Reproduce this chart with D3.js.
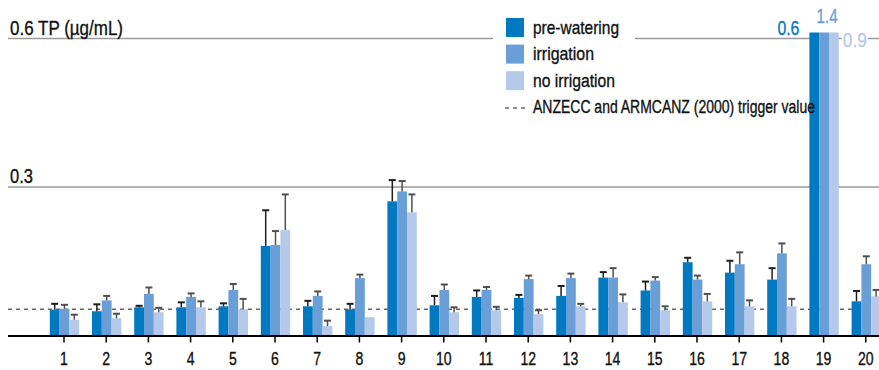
<!DOCTYPE html>
<html>
<head>
<meta charset="utf-8">
<script src="https://cdn.jsdelivr.net/npm/d3@7"></script>
<style>
  html, body { margin: 0; padding: 0; background: #fff; }
  svg { display: block; }
  text { font-family: "Liberation Sans", Arial, sans-serif; }
</style>
</head>
<body>
<svg id="chart" width="879" height="370"></svg>
<script>
// Total phosphorus (TP, µg/mL) by site, three sampling treatments
const sites = ["1","2","3","4","5","6","7","8","9","10","11","12","13","14","15","16","17","18","19","20"];

const preWatering   = [0.052,0.049,0.057,0.057,0.059,0.181,0.059,0.053,0.271,0.061,0.078,0.076,0.080,0.117,0.091,0.148,0.127,0.113,0.6,0.069];
const preWateringSE = [0.012,0.014,0.003,0.010,0.006,0.072,0.011,0.011,0.043,0.019,0.013,0.006,0.020,0.011,0.018,0.009,0.024,0.023,0,0.021];

const irrigation    = [0.054,0.071,0.084,0.078,0.092,0.183,0.080,0.116,0.291,0.092,0.092,0.114,0.116,0.117,0.111,0.113,0.144,0.166,1.4,0.144];
const irrigationSE  = [0.008,0.009,0.013,0.007,0.012,0.028,0.009,0.007,0.021,0.011,0.006,0.007,0.009,0.019,0.007,0.008,0.024,0.020,0,0.016];

const noIrrigation  = [0.032,0.035,0.047,0.057,0.053,0.213,0.019,0.037,0.249,0.047,0.051,0.043,0.059,0.067,0.051,0.069,0.059,0.059,0.9,0.079];
const noIrrigationSE= [0.010,0.009,0.009,0.012,0.021,0.072,0.011,0,0.036,0.010,0.007,0.008,0.005,0.016,0.008,0.015,0.012,0.015,0,0.013];

const seriesNames  = ["pre-watering", "irrigation", "no irrigation"];
const seriesColors = ["#0079c1", "#6a9ed6", "#b5caeb"];
const errorColors  = ["#1e1e1e", "#4f4f4f", "#4f4f4f"];
const triggerValue = 0.053;
const triggerLabel = "ANZECC and ARMCANZ (2000) trigger value";
const yTicks = [0.3, 0.6];
const yTopLabel = "TP (µg/mL)";

const series = [
  { name: seriesNames[0], values: preWatering,  errors: preWateringSE },
  { name: seriesNames[1], values: irrigation,   errors: irrigationSE },
  { name: seriesNames[2], values: noIrrigation, errors: noIrrigationSE }
];

const svg = d3.select("#chart");
const W = 879;
const left = 8;
const narrow = 0.8; // default horizontal squeeze for a condensed look

// set widths for the condensed labels
const legendWidths = [86, 61, 82, 282];
const valueLabelWidths = [22, 21, 24];

const y = d3.scaleLinear().domain([0, 0.6]).range([335.5, 38.5]);
const yMax = 0.6;
const overshoot = 6; // bars beyond the scale are cut just above the top line

const x = d3.scalePoint().domain(sites).range([64, 865.8]);
const xSub = d3.scaleBand().domain(d3.range(3)).range([-14.2, 15.2]);

// gridlines
svg.append("g").selectAll("line").data(yTicks).join("line")
  .attr("x1", left).attr("x2", W)
  .attr("y1", d => y(d)).attr("y2", d => y(d))
  .attr("stroke", "#9a9a9a").attr("stroke-width", 1.5);

// y labels
svg.append("g").selectAll("text").data(yTicks).join("text")
  .attr("x", 10).attr("y", d => y(d) - 4)
  .attr("font-size", 20.5).attr("fill", "#111")
  .attr("data-w", d => d === yMax ? 113 : 23)
  .text(d => d === yMax ? `${d} ${yTopLabel}` : `${d}`);

// trigger line
svg.append("line")
  .attr("x1", left).attr("x2", W)
  .attr("y1", y(triggerValue)).attr("y2", y(triggerValue))
  .attr("stroke", "#666").attr("stroke-width", 1.4)
  .attr("stroke-dasharray", "4,4");

// bars
const barTop = v => v >= yMax ? y(yMax) - overshoot : y(v);
const groups = svg.append("g").selectAll("g").data(sites).join("g")
  .attr("transform", d => `translate(${x(d)},0)`);

series.forEach((s, j) => {
  groups.append("rect")
    .attr("x", xSub(j))
    .attr("width", xSub.bandwidth())
    .attr("y", (d, i) => barTop(s.values[i]))
    .attr("height", (d, i) => y(0) - barTop(s.values[i]))
    .attr("fill", seriesColors[j]);
});

// error bars (upper only)
series.forEach((s, j) => {
  const cx = xSub(j) + xSub.bandwidth() / 2;
  const top = d => { const i = sites.indexOf(d); return y(s.values[i] + s.errors[i]); };
  const eg = groups.filter((d, i) => s.errors[i] > 0 && s.values[i] < yMax);
  eg.append("line")
    .attr("x1", cx).attr("x2", cx)
    .attr("y1", d => y(s.values[sites.indexOf(d)]))
    .attr("y2", top)
    .attr("stroke", errorColors[j]).attr("stroke-width", 1.5);
  eg.append("line")
    .attr("x1", cx - 3.5).attr("x2", cx + 3.5)
    .attr("y1", top).attr("y2", top)
    .attr("stroke", errorColors[j]).attr("stroke-width", 2);
});

// value labels for the off-scale site
const offIdx = sites.findIndex((d, i) => series.some(s => s.values[i] >= yMax));
if (offIdx >= 0) {
  const cx = x(sites[offIdx]);
  const lblG = svg.append("g").attr("font-size", 21);
  lblG.append("text")
    .attr("x", cx + xSub(0) - 10).attr("y", 35)
    .attr("text-anchor", "end").attr("fill", seriesColors[0])
    .attr("data-w", valueLabelWidths[0])
    .text(d3.format(".1f")(series[0].values[offIdx]));
  lblG.append("text")
    .attr("x", cx + xSub(1) + xSub.bandwidth() / 2 + 3).attr("y", 23)
    .attr("text-anchor", "middle").attr("fill", seriesColors[1])
    .attr("data-w", valueLabelWidths[1])
    .text(d3.format(".1f")(series[1].values[offIdx]));
  const t3x = cx + xSub(2) + xSub.bandwidth() + 4;
  lblG.append("rect")
    .attr("x", t3x - 1).attr("y", 30).attr("width", 26).attr("height", 18)
    .attr("fill", "#fff");
  lblG.append("text")
    .attr("x", t3x).attr("y", 47)
    .attr("fill", seriesColors[2])
    .attr("data-w", valueLabelWidths[2])
    .text(d3.format(".1f")(series[2].values[offIdx]));
}

// x axis
svg.append("line")
  .attr("x1", left).attr("x2", W)
  .attr("y1", 336).attr("y2", 336)
  .attr("stroke", "#000").attr("stroke-width", 2);
const xAxis = svg.append("g");
xAxis.selectAll("line").data(sites).join("line")
  .attr("x1", d => x(d)).attr("x2", d => x(d))
  .attr("y1", 336).attr("y2", 342.5)
  .attr("stroke", "#000").attr("stroke-width", 1.5);
xAxis.selectAll("text").data(sites).join("text")
  .attr("x", d => x(d)).attr("y", 364.5)
  .attr("text-anchor", "middle").attr("font-size", 17.5).attr("fill", "#111")
  .text(d => d);

// legend
const lg = svg.append("g");
lg.append("rect").attr("x", 493).attr("y", 12).attr("width", 142).attr("height", 108).attr("fill", "#fff");
series.forEach((s, j) => {
  const ty = 18 + j * 26.6;
  lg.append("rect").attr("x", 506).attr("y", ty).attr("width", 18).attr("height", 19)
    .attr("fill", seriesColors[j]);
  lg.append("text").attr("x", 533).attr("y", ty + 15.5)
    .attr("font-size", 18.5).attr("fill", "#111")
    .attr("data-w", legendWidths[j])
    .text(s.name);
});
lg.append("line").attr("x1", 505).attr("x2", 525).attr("y1", 108).attr("y2", 108)
  .attr("stroke", "#666").attr("stroke-width", 1.4).attr("stroke-dasharray", "4,4");
lg.append("text").attr("x", 533).attr("y", 113)
  .attr("font-size", 18.5).attr("fill", "#111")
  .attr("data-w", legendWidths[3])
  .text(triggerLabel);

// condense every label horizontally and give it a slightly heavier stroke
svg.selectAll("text").each(function () {
  const w = this.getAttribute("data-w");
  const len = w ? +w : this.getComputedTextLength() * narrow;
  this.setAttribute("textLength", len.toFixed(1));
  this.setAttribute("lengthAdjust", "spacingAndGlyphs");
  this.setAttribute("stroke", this.getAttribute("fill"));
  this.setAttribute("stroke-width", 0.35);
});
</script>
</body>
</html>
